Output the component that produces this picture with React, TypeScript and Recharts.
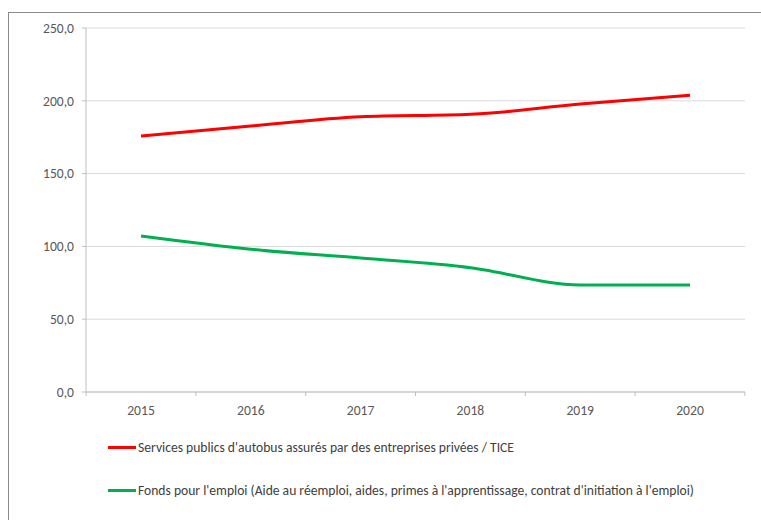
import React from 'react';
import { LineChart, Line, XAxis, YAxis, CartesianGrid, Legend } from 'recharts';

const years = ['2015', '2016', '2017', '2018', '2019', '2020'];
const busServices = [175.8, 182.7, 189.0, 190.7, 197.8, 203.8];
const employmentFund = [107.1, 98.0, 92.0, 85.4, 73.5, 73.5];
const yTicks = [0, 50, 100, 150, 200, 250];
const seriesNames = [
  "Services publics d'autobus assurés par des entreprises privées / TICE",
  "Fonds pour l'emploi (Aide au réemploi, aides, primes à l'apprentissage, contrat d'initiation à l'emploi)",
];

const data = years.map((year, i) => ({
  year,
  bus: busServices[i],
  fund: employmentFund[i],
}));

const FONT = "Carlito, Lato, sans-serif";
const TEXT = '#595959';
const AXIS = '#bfbfbf';
const TICK_SIZE = 4;
const TICK_MARGIN = 9;
const FS = 13.6;

const XTick = (props: any) => {
  const { x, y, payload, index, width, visibleTicksCount } = props;
  const step = width / visibleTicksCount;
  const axisY = y - TICK_SIZE - TICK_MARGIN;
  const last = index === visibleTicksCount - 1;
  return (
    <g>
      <line x1={x - step / 2} x2={x - step / 2} y1={axisY} y2={axisY + 4} stroke={AXIS} />
      {last && <line x1={x + step / 2} x2={x + step / 2} y1={axisY} y2={axisY + 4} stroke={AXIS} />}
      <text x={x} y={y} dy="0.71em" textAnchor="middle" fill={TEXT} fontSize={FS} fontFamily={FONT}>
        {payload.value}
      </text>
    </g>
  );
};

const renderLegend = (props: any) => {
  const items = [...(props.payload || [])].sort(
    (a: any, b: any) => seriesNames.indexOf(a.value) - seriesNames.indexOf(b.value)
  );
  return (
    <div style={{ height: 98, paddingLeft: 99, paddingTop: 3.5, boxSizing: 'border-box', fontFamily: FONT, fontSize: FS, color: '#404040' }}>
      {items.map((entry: any) => (
        <div key={entry.value} style={{ display: 'flex', alignItems: 'center', height: 43, whiteSpace: 'nowrap' }}>
          <span style={{ display: 'inline-block', width: 28, height: 3, background: entry.color, marginRight: 2 }} />
          <span>{entry.value}</span>
        </div>
      ))}
    </div>
  );
};

export default function App() {
  return (
    <div
      style={{
        position: 'fixed',
        left: 8,
        top: 12,
        width: 752,
        height: 507,
        borderLeft: '1px solid #8a8a8a',
        borderTop: '1px solid #8a8a8a',
        background: '#fff',
        overflow: 'hidden',
      }}
    >
      <LineChart width={752} height={507} data={data} margin={{ top: 15, right: 16, left: 0, bottom: 0 }}>
        <CartesianGrid horizontal vertical={false} stroke="#d9d9d9" />
        <XAxis
          dataKey="year"
          padding={{ left: 55, right: 55 }}
          height={30}
          stroke={AXIS}
          tickLine={{ stroke: 'transparent' }}
          tickSize={TICK_SIZE}
          tickMargin={TICK_MARGIN}
          tick={<XTick />}
          interval={0}
        />
        <YAxis
          width={77}
          domain={[0, 250]}
          ticks={yTicks}
          stroke={AXIS}
          tickSize={4}
          tickMargin={8}
          tick={{ fill: TEXT, fontSize: FS, fontFamily: FONT }}
          tickFormatter={(v: number) => v.toFixed(1).replace('.', ',')}
        />
        <Legend verticalAlign="bottom" height={98} content={renderLegend} />
        <Line type="monotone" dataKey="bus" name={seriesNames[0]} stroke="#ff0000" strokeWidth={3} dot={false} isAnimationActive={false} />
        <Line type="monotone" dataKey="fund" name={seriesNames[1]} stroke="#00b050" strokeWidth={3} dot={false} isAnimationActive={false} />
      </LineChart>
    </div>
  );
}
